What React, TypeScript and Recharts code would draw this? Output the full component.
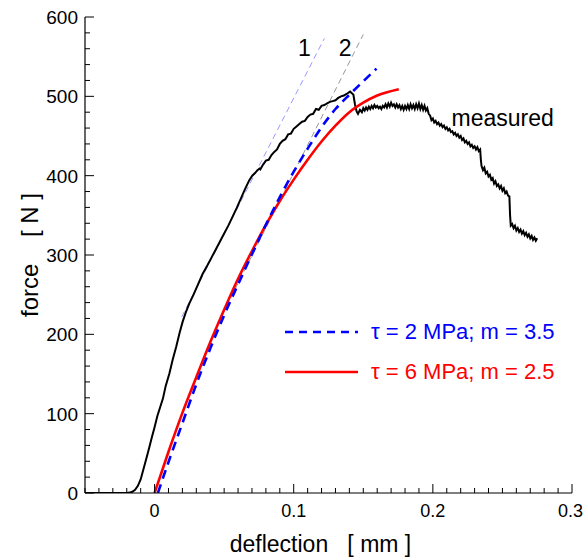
import React from "react";
import { LineChart, Line, XAxis, YAxis, Legend, ReferenceDot } from "recharts";

type P = { x: number; y: number };
const toPts = (a: number[][]): P[] => a.map(([x, y]) => ({ x, y }));

// measured force-deflection curve
const measured: number[][] = [
  [-0.05, 0], [-0.03, 0], [-0.02, 0], [-0.018, 0.5], [-0.016, 1.5], [-0.014, 4], [-0.012, 9],
  [-0.01, 17], [-0.008, 30], [-0.006, 43], [-0.004, 56], [-0.002, 70], [0, 83], [0.002, 97],
  [0.004, 108], [0.006, 119], [0.008, 135], [0.0107, 151], [0.013, 168], [0.0155, 184],
  [0.018, 202], [0.0202, 216], [0.0225, 228], [0.025, 239], [0.028, 250], [0.031, 262],
  [0.0345, 276], [0.038, 287], [0.041, 297], [0.044, 307], [0.047, 317], [0.05, 327],
  [0.053, 337], [0.056, 348], [0.059, 359], [0.062, 371], [0.065, 383], [0.068, 394],
  [0.0702, 400], [0.072, 403], [0.074, 407], [0.0754, 409], [0.076, 408], [0.078, 414], [0.08, 419],
  [0.082, 420], [0.084, 426], [0.086, 430], [0.088, 433], [0.09, 440], [0.092, 444],
  [0.094, 446], [0.096, 452], [0.098, 453], [0.1, 459], [0.102, 462], [0.104, 465],
  [0.106, 468], [0.108, 469], [0.11, 474], [0.112, 477], [0.114, 478], [0.116, 484],
  [0.118, 483], [0.12, 488], [0.122, 489], [0.124, 491], [0.126, 493], [0.128, 494],
  [0.13, 495], [0.132, 498], [0.134, 500], [0.136, 501], [0.138, 503], [0.1405, 506],
  [0.1418, 504], [0.1429, 502], [0.144, 490], [0.1452, 481], [0.1462, 478], [0.1476, 483],
  [0.149, 480], [0.15, 485], [0.151, 482], [0.152, 486], [0.153, 483], [0.154, 487],
  [0.155, 484], [0.156, 488], [0.157, 485], [0.158, 489], [0.159, 486], [0.16, 488],
  [0.161, 485], [0.162, 487], [0.163, 484], [0.164, 488], [0.165, 486], [0.166, 490],
  [0.167, 486], [0.168, 491], [0.169, 487], [0.17, 492], [0.171, 488], [0.172, 490],
  [0.173, 486], [0.174, 490], [0.175, 486], [0.176, 489], [0.177, 484], [0.178, 488],
  [0.179, 483], [0.18, 488], [0.181, 484], [0.182, 489], [0.183, 484], [0.184, 490],
  [0.185, 485], [0.186, 489], [0.187, 484], [0.188, 490], [0.189, 485], [0.19, 491],
  [0.191, 484], [0.192, 489], [0.193, 483], [0.194, 488], [0.195, 482], [0.196, 485],
  [0.197, 478], [0.198, 476], [0.199, 470], [0.2, 472], [0.201, 467], [0.202, 469],
  [0.203, 465], [0.204, 467], [0.205, 463], [0.206, 465], [0.207, 461], [0.208, 463],
  [0.209, 459], [0.21, 461], [0.211, 457], [0.212, 459], [0.213, 455], [0.214, 456],
  [0.215, 452], [0.216, 454], [0.217, 450], [0.218, 452], [0.219, 448], [0.22, 450],
  [0.221, 445], [0.222, 447], [0.223, 442], [0.224, 444], [0.225, 440], [0.226, 442],
  [0.227, 437], [0.228, 439], [0.229, 435], [0.23, 437], [0.231, 433], [0.232, 436],
  [0.233, 431], [0.234, 433], [0.2345, 420], [0.235, 412], [0.236, 407], [0.237, 410],
  [0.238, 403], [0.239, 405], [0.24, 399], [0.241, 401], [0.242, 395], [0.243, 397],
  [0.244, 390], [0.245, 393], [0.246, 387], [0.247, 389], [0.248, 384], [0.249, 387],
  [0.25, 381], [0.251, 384], [0.252, 378], [0.253, 380], [0.254, 375], [0.255, 374],
  [0.2555, 350], [0.256, 337], [0.257, 339], [0.258, 334], [0.259, 337], [0.26, 331],
  [0.261, 334], [0.262, 329], [0.263, 332], [0.264, 327], [0.265, 330], [0.266, 325],
  [0.267, 328], [0.268, 323], [0.269, 326], [0.27, 321], [0.271, 324], [0.272, 319],
  [0.273, 322], [0.274, 318], [0.275, 321],
];

// model: tau = 2 MPa; m = 3.5 (blue dashed)
const modelBlue: number[][] = [
  [0.0024, 0], [0.01, 39], [0.02, 88], [0.03, 137], [0.04, 182], [0.05, 224], [0.06, 263],
  [0.07, 301], [0.08, 338], [0.09, 373], [0.1, 405], [0.11, 434], [0.12, 461], [0.13, 484],
  [0.14, 502], [0.15, 519], [0.1595, 535],
];

// model: tau = 6 MPa; m = 2.5 (red solid)
const modelRed: number[][] = [
  [0, 0], [0.01, 52], [0.02, 101], [0.03, 146], [0.04, 190], [0.05, 231], [0.06, 270],
  [0.07, 305], [0.08, 338], [0.09, 368], [0.1, 395], [0.11, 420], [0.12, 443], [0.13, 463],
  [0.14, 480], [0.15, 492], [0.16, 501], [0.1755, 509],
];

// tangent lines 1 and 2
const tangent1: number[][] = [[0.0195, 222], [0.122, 573]];
const tangent2: number[][] = [[0.045, 212], [0.15, 578]];

const legendItems = [
  { label: "\u03c4 = 2 MPa; m = 3.5", color: "#0000ff", dash: "8 6" },
  { label: "\u03c4 = 6 MPa; m = 2.5", color: "#ff0000", dash: "" },
];

const annotations = [
  { x: 0.1077, y: 561, text: "1" },
  { x: 0.137, y: 561, text: "2" },
  { x: 0.2502, y: 473, text: "measured" },
];

const X_MAJOR = [0, 0.1, 0.2, 0.3];
const X_MAJOR_LABELS = ["0", "0.1", "0.2", "0.3"];
const Y_MAJOR = [0, 100, 200, 300, 400, 500, 600];
const X_DOMAIN = [-0.05, 0.3];
const Y_DOMAIN = [0, 600];

const xTicks: number[] = [];
for (let i = -5; i <= 30; i++) xTicks.push(Math.round(i) / 100);
const yTicks: number[] = [];
for (let v = 0; v <= 600; v += 20) yTicks.push(v);

const FONT = "'Liberation Sans', Arial, Helvetica, sans-serif";

const XTick = (props: any) => {
  const { x, y, payload } = props;
  const v = payload.value;
  const idx = X_MAJOR.findIndex((m) => Math.abs(m - v) < 1e-9);
  const major = idx >= 0;
  const lx = idx === X_MAJOR.length - 1 ? x - 1.5 : x;
  return (
    <g>
      <line x1={x} x2={x} y1={y} y2={y - (major ? 9 : 5)} stroke="#000" strokeWidth={1} />
      {major && (
        <text x={lx} y={y + 24} textAnchor="middle" fontSize={18} fontFamily={FONT} fill="#000">
          {X_MAJOR_LABELS[idx]}
        </text>
      )}
    </g>
  );
};

const YTick = (props: any) => {
  const { x, y, payload } = props;
  const v = payload.value;
  const major = Y_MAJOR.includes(v);
  return (
    <g>
      <line x1={x} x2={x + (major ? 9 : 5)} y1={y} y2={y} stroke="#000" strokeWidth={1} />
      {major && (
        <text x={x - 7} y={y + 7} textAnchor="end" fontSize={19} fontFamily={FONT} fill="#000">
          {String(v)}
        </text>
      )}
    </g>
  );
};

const renderLegend = () => (
  <div style={{ fontFamily: FONT }}>
    {legendItems.map((it, i) => (
      <div key={i} style={{ display: "flex", alignItems: "center", height: 40 }}>
        <svg width={86} height={10} style={{ display: "block" }}>
          <line x1={0} x2={73} y1={5} y2={5} stroke={it.color} strokeWidth={2.5} strokeDasharray={it.dash || undefined} />
        </svg>
        <span style={{ color: it.color, fontSize: 22, whiteSpace: "pre", lineHeight: "22px" }}>{it.label}</span>
      </div>
    ))}
  </div>
);

export default function App() {
  return (
    <div style={{ position: "absolute", left: 0, top: 0, width: 583, height: 558, background: "#fff" }}>
      <LineChart width={583} height={558} margin={{ top: 17, right: 11, bottom: 0, left: 0 }}>
        <XAxis
          type="number"
          dataKey="x"
          domain={X_DOMAIN}
          ticks={xTicks}
          interval={0}
          height={65}
          tickSize={0}
          tickMargin={0}
          tick={<XTick />}
          axisLine={{ stroke: "#000", strokeWidth: 1.2 }}
          allowDataOverflow
          label={{
            content: (p: any) => {
              const vb = p.viewBox || { x: 85, y: 493, width: 487 };
              return (
                <text x={vb.x + vb.width / 2 - 8} y={vb.y + 59} textAnchor="middle" fontSize={23} fontFamily={FONT} fill="#000" style={{ whiteSpace: "pre" }}>
                  {"deflection   [ mm ]"}
                </text>
              );
            },
          }}
        />
        <YAxis
          type="number"
          dataKey="y"
          domain={Y_DOMAIN}
          ticks={yTicks}
          interval={0}
          width={85}
          tickSize={0}
          tickMargin={0}
          tick={<YTick />}
          axisLine={{ stroke: "#000", strokeWidth: 1.2 }}
          allowDataOverflow
          label={{
            content: (p: any) => {
              const vb = p.viewBox || { x: 0, y: 17, width: 85, height: 476 };
              const cx = vb.x + vb.width - 47;
              const cy = vb.y + vb.height / 2;
              return (
                <text x={cx} y={cy} transform={`rotate(-90 ${cx} ${cy})`} textAnchor="middle" fontSize={24} fontFamily={FONT} fill="#000" style={{ whiteSpace: "pre" }}>
                  {"force    [ N ]"}
                </text>
              );
            },
          }}
        />
        <Line data={toPts(tangent1)} dataKey="y" stroke="#8c8cff" strokeWidth={0.9} strokeDasharray="6 4" dot={false} isAnimationActive={false} legendType="none" />
        <Line data={toPts(tangent2)} dataKey="y" stroke="#8a8a8a" strokeWidth={0.9} strokeDasharray="6 4" dot={false} isAnimationActive={false} legendType="none" />
        <Line data={toPts(measured)} dataKey="y" stroke="#000" strokeWidth={2} dot={false} isAnimationActive={false} />
        <Line data={toPts(modelRed)} dataKey="y" type="monotone" stroke="#ff0000" strokeWidth={2.6} dot={false} isAnimationActive={false} />
        <Line data={toPts(modelBlue)} dataKey="y" type="monotone" stroke="#0000ff" strokeWidth={2.6} strokeDasharray="9 6" dot={false} isAnimationActive={false} />
        {annotations.map((a, i) => (
          <ReferenceDot
            key={i}
            x={a.x}
            y={a.y}
            r={0}
            fill="none"
            stroke="none"
            label={{ value: a.text, position: "center", fontSize: 23, fontFamily: FONT, fill: "#000" }}
          />
        ))}
        <Legend
          layout="vertical"
          verticalAlign="middle"
          align="center"
          content={renderLegend}
          wrapperStyle={{ position: "absolute", left: 285, top: 312, width: 300, height: 80 }}
        />
      </LineChart>
    </div>
  );
}
